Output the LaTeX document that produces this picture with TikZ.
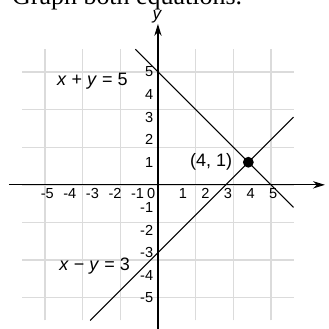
\documentclass[tikz,border=0pt]{standalone}
\usepackage{fontspec}
\setmainfont{Liberation Sans}
\newfontfamily\titlefont{Liberation Serif}
\usetikzlibrary{arrows.meta}
\begin{document}
\begin{tikzpicture}[x=0.6cm,y=0.6cm,
  gridline/.style={draw=black!14,line width=1pt},
  axisline/.style={draw=black,line width=0.9pt},
  graphline/.style={draw=black,line width=0.8pt},
  ticklbl/.style={font=\fontsize{11}{12}\selectfont,inner sep=0pt},
  eqlbl/.style={font=\fontsize{13.6}{16}\selectfont,inner sep=0pt}]
\useasboundingbox (-6.99,-6.38) rectangle (7.57,8.18);
\clip (-6.99,-6.38) rectangle (7.57,8.18);
% title
\node[anchor=base west,inner sep=0pt,font=\titlefont\fontsize{19.6}{22}\selectfont] (title) at (-6.46,7.96) {Graph both equations.};
% grid
\draw[gridline] (-6,-6) grid (6,6);
% axes
\coordinate (xl) at (-6.6,0);
\coordinate (xr) at (7.39,0);
\coordinate (yb) at (0,-6.6);
\coordinate (yt) at (0,7.12);
\draw[axisline,-{Stealth[length=9pt,width=5.5pt]}] (xl) -- (xr);
\draw[axisline,-{Stealth[length=9pt,width=5.5pt]}] (yb) -- (yt);
\node[font=\fontsize{13}{15}\selectfont\itshape,inner sep=0pt] (ylab) at (-0.05,7.45) {y};
% tick labels
\foreach \v in {-5,-4,-3,-2,-1} {
  \node[ticklbl] (xt\v) at (\v+0.1,-0.38) {\v};
}
\node[ticklbl] (x0) at (-0.3,-0.38) {0};
\foreach \v in {1,2,3,4,5} {
  \node[ticklbl] (xt\v) at (\v+0.1,-0.38) {\v};
}
\foreach \v in {-5,-4,-3,-2,-1,1,2,3,4,5} {
  \node[ticklbl,anchor=east] (yt\v) at (-0.2,\v) {\v};
}
% lines
\coordinate (a1) at (-1,6);
\coordinate (a2) at (6,-1);
\coordinate (b1) at (-3,-6);
\coordinate (b2) at (6,3);
\draw[graphline] (a1) -- (a2);
\draw[graphline] (b1) -- (b2);
% point
\fill (4,1) circle (0.24);
\node[eqlbl] (pt) at (2.35,1.0) {(4, 1)};
\node[eqlbl] (eq1) at (-2.9,4.6) {\textit{x} + \textit{y} = 5};
\node[eqlbl] (eq2) at (-2.8,-3.6) {\textit{x} − \textit{y} = 3};
\end{tikzpicture}
\end{document}
